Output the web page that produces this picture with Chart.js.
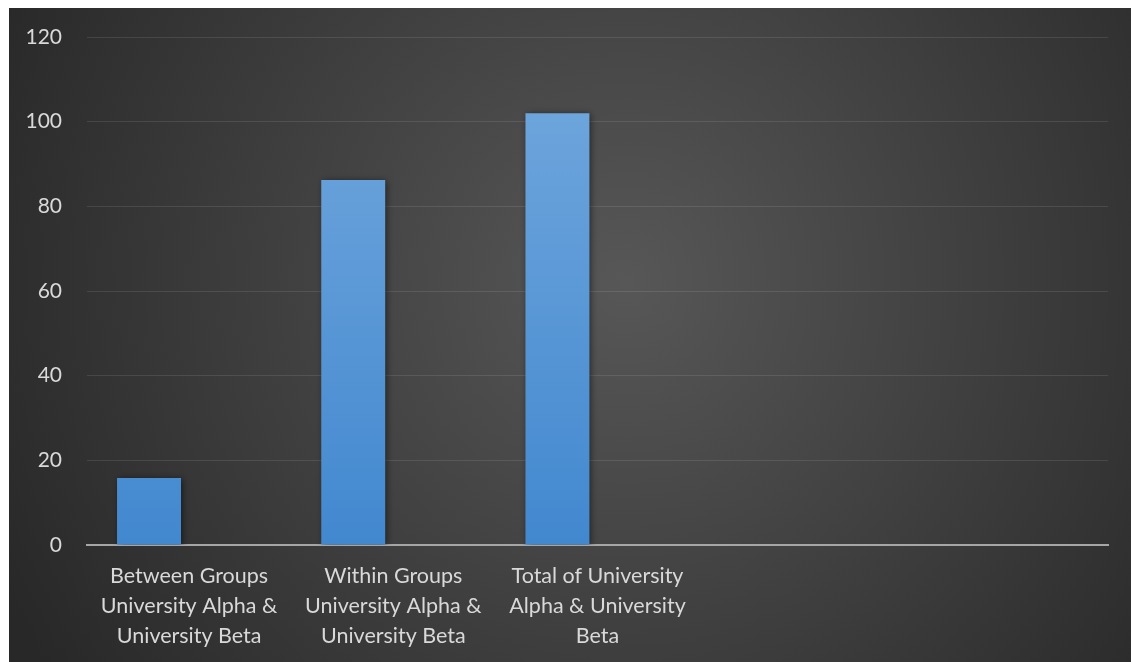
<!DOCTYPE html>
<html>
<head>
<meta charset="utf-8">
<script src="https://cdn.jsdelivr.net/npm/chart.js@4/dist/chart.umd.min.js"></script>
<style>
  body { margin: 0; background: #fff; }
  #wrap { position: absolute; left: 9px; top: 8px; width: 1122px; height: 654px; }
</style>
</head>
<body>
<div id="wrap"><canvas id="chart"></canvas></div>
<script>
let categories = [
    ['Between Groups', 'University Alpha &', 'University Beta'],
    ['Within Groups', 'University Alpha &', 'University Beta'],
    ['Total of University', 'Alpha & University', 'Beta'],
    '',
    ''
]
let values = [15.8, 86.2, 102, null, null]
// second series has no entries, it only holds its slot in each group
let emptyValues = [null, null, null, null, null]
let yTicks = [0, 20, 40, 60, 80, 100, 120]

// dark radial backdrop behind everything
let backdrop = {
    id: 'backdrop',
    beforeDraw(chart) {
        let ctx = chart.ctx
        let w = chart.width, h = chart.height
        let g = ctx.createRadialGradient(w * 0.55, h * 0.42, 0, w * 0.55, h * 0.42, w * 0.62)
        g.addColorStop(0, '#575757')
        g.addColorStop(1, '#282828')
        ctx.save()
        ctx.fillStyle = g
        ctx.fillRect(0, 0, w, h)
        ctx.restore()
    }
}

// soft shadow under the bars
let barShadow = {
    id: 'barShadow',
    beforeDatasetDraw(chart) {
        let ctx = chart.ctx
        ctx.save()
        ctx.shadowColor = 'rgba(0,0,0,0.55)'
        ctx.shadowBlur = 7
        ctx.shadowOffsetX = 2
        ctx.shadowOffsetY = 1
    },
    afterDatasetDraw(chart) {
        chart.ctx.restore()
    }
}

let barFill = function(context) {
    let chart = context.chart
    let area = chart.chartArea
    if (!area) return '#5b9bd5'
    let g = chart.ctx.createLinearGradient(0, area.top, 0, area.bottom)
    g.addColorStop(0, '#74a9de')
    g.addColorStop(1, '#4288cf')
    return g
}

let labelFont = { family: 'Lato', size: 21.5, lineHeight: '30px' }

let chart = new Chart(
    document.getElementById('chart'),
    {
        type: 'bar',
        data: {
            labels: categories,
            datasets: [
                {
                    label: 'Series 1',
                    data: values,
                    backgroundColor: barFill,
                    borderWidth: 0,
                    barPercentage: 0.798,
                    categoryPercentage: 0.785
                },
                {
                    label: 'Series 2',
                    data: emptyValues,
                    backgroundColor: '#ed7d31',
                    borderWidth: 0,
                    barPercentage: 0.798,
                    categoryPercentage: 0.785
                }
            ]
        },
        options: {
            responsive: true,
            maintainAspectRatio: false,
            animation: false,
            layout: {
                padding: { top: 29, right: 23, bottom: 0, left: 0 }
            },
            plugins: {
                legend: { display: false },
                tooltip: { enabled: false }
            },
            scales: {
                x: {
                    grid: { display: false, drawTicks: false },
                    border: { display: true, color: '#a6a6a6', width: 2 },
                    ticks: {
                        color: '#d9d9d9',
                        font: labelFont,
                        maxRotation: 0,
                        autoSkip: false,
                        padding: 16
                    },
                    afterFit(scale) { scale.height = 117 }
                },
                y: {
                    min: 0,
                    max: 120,
                    afterBuildTicks(scale) {
                        scale.ticks = yTicks.map(v => ({ value: v }))
                    },
                    grid: { color: 'rgba(255,255,255,0.1)', lineWidth: 1, drawTicks: false },
                    border: { display: false },
                    ticks: {
                        color: '#d9d9d9',
                        font: { family: 'Lato', size: 21 },
                        padding: 25
                    },
                    afterFit(scale) {
                        scale.width = 78
                        scale.paddingTop = 0
                        scale.paddingBottom = 0
                    }
                }
            }
        },
        plugins: [backdrop, barShadow]
    }
)
</script>
</body>
</html>
